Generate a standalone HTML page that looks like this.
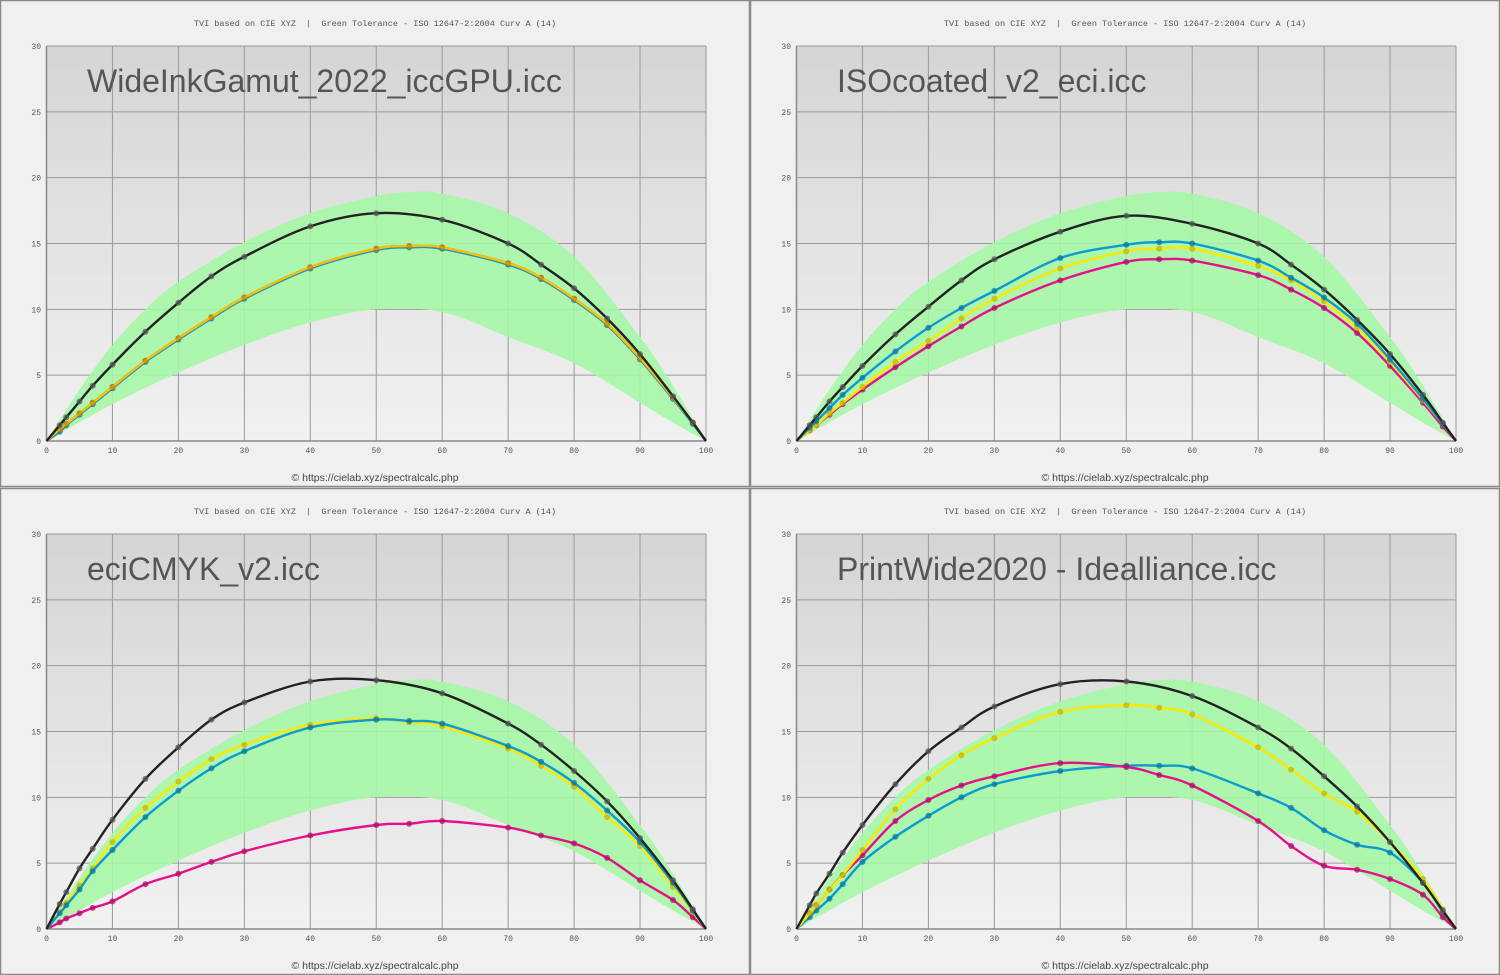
<!DOCTYPE html>
<html><head><meta charset="utf-8"><style>
html,body{margin:0;padding:0;background:#f0f0f0;width:1500px;height:975px;overflow:hidden}
svg{display:block}
</style></head><body>
<svg id="s" width="1500" height="975" xmlns="http://www.w3.org/2000/svg">
<defs><linearGradient id="g" x1="0" y1="0" x2="0" y2="1"><stop offset="0" stop-color="#d5d5d5"/><stop offset="1" stop-color="#f1f1f1"/></linearGradient></defs>
</svg>
<script>
const X=[0,2,3,5,7,10,15,20,25,30,40,50,55,60,70,75,80,85,90,95,98,100];
const UP=[[0,0],[5,3.9],[10,7.3],[15,10],[20,12.1],[30,15.1],[40,17.3],[50,18.6],[55,18.9],[60,18.8],[70,17.3],[80,14],[90,7.9],[95,4.2],[100,0]];
const LO=[[0,0],[10,2.8],[20,5.2],[30,7.3],[40,9],[50,10],[60,9.8],[70,7.9],[80,5.9],[90,2.9],[95,1.4],[100,0]];
const K='#222',C='#0c9bd0',M='#e5108a',Y='#ffe800';
const P=[
 {t:'WideInkGamut_2022_iccGPU.icc',ox:0,oy:0,s:[
  [C,[0,0.7,1.2,2.0,2.8,4.0,6.0,7.7,9.3,10.8,13.1,14.5,14.7,14.6,13.4,12.3,10.7,8.8,6.2,3.2,1.3,0]],
  [M,[0,0.9,1.3,2.1,2.9,4.1,6.1,7.8,9.4,10.9,13.2,14.6,14.8,14.7,13.5,12.4,10.8,8.9,6.3,3.3,1.4,0]],
  ['#f5c400',[0,0.9,1.3,2.1,2.9,4.1,6.1,7.8,9.4,10.9,13.2,14.6,14.8,14.7,13.5,12.4,10.8,8.9,6.3,3.3,1.4,0]],
  [K,[0,1.2,1.8,3,4.2,5.8,8.3,10.5,12.5,14,16.3,17.3,null,16.8,15,13.4,11.6,9.3,6.6,3.4,1.4,0]]]},
 {t:'ISOcoated_v2_eci.icc',ox:750,oy:0,s:[
  [M,[0,0.8,1.2,2,2.8,3.9,5.6,7.2,8.7,10.1,12.2,13.6,13.8,13.7,12.6,11.5,10.1,8.2,5.7,2.9,1.1,0]],
  [Y,[0,0.8,1.2,2.1,2.9,4.1,6,7.6,9.3,10.8,13.1,14.4,14.6,14.6,13.3,12.2,10.6,8.6,6,3.1,1.3,0]],
  [C,[0,1,1.5,2.5,3.5,4.8,6.8,8.6,10.1,11.4,13.9,14.9,15.1,15,13.7,12.4,10.9,8.9,6.2,3.2,1.3,0]],
  [K,[0,1.2,1.8,3,4.1,5.7,8.1,10.2,12.2,13.8,15.9,17.1,null,16.5,15,13.4,11.5,9.2,6.6,3.5,1.4,0]]]},
 {t:'eciCMYK_v2.icc',ox:0,oy:488,s:[
  [M,[0,0.5,0.8,1.2,1.6,2.1,3.4,4.2,5.1,5.9,7.1,7.9,8,8.2,7.7,7.1,6.5,5.4,3.7,2.2,0.9,0]],
  [Y,[0,1.3,2,3.3,4.6,6.6,9.2,11.2,12.9,14,15.5,16,15.7,15.4,13.7,12.4,10.8,8.5,6.3,3.2,1.3,0]],
  [C,[0,1.2,1.8,3,4.4,6,8.5,10.5,12.2,13.5,15.3,15.9,15.8,15.6,13.9,12.7,11.1,9,6.6,3.5,1.4,0]],
  [K,[0,1.9,2.8,4.6,6.1,8.3,11.4,13.8,15.9,17.2,18.8,18.9,null,17.9,15.6,14,12,9.7,6.9,3.7,1.5,0]]]},
 {t:'PrintWide2020 - Idealliance.icc',ox:750,oy:488,s:[
  [C,[0,0.9,1.4,2.3,3.4,5.1,7,8.6,10,11,12,12.4,12.4,12.2,10.3,9.2,7.5,6.4,5.8,3.5,1.3,0]],
  [M,[0,1.2,1.8,3,4.1,5.6,8.2,9.8,10.9,11.6,12.6,12.3,11.7,10.9,8.2,6.3,4.8,4.5,3.8,2.6,0.9,0]],
  [Y,[0,1.2,1.8,3,4.1,6,9.1,11.4,13.2,14.5,16.5,17,16.8,16.3,13.8,12.1,10.3,8.9,6.6,3.8,1.5,0]],
  [K,[0,1.8,2.7,4.2,5.8,7.9,11,13.5,15.3,16.9,18.6,18.8,null,17.7,15.3,13.7,11.6,9.3,6.6,3.5,1.4,0]]]}
];
function cr(pts){let d='M'+pts[0][0].toFixed(1)+','+pts[0][1].toFixed(1);
 for(let i=0;i<pts.length-1;i++){const p0=pts[i-1]||pts[i],p1=pts[i],p2=pts[i+1],p3=pts[i+2]||p2;
  const c1=[p1[0]+(p2[0]-p0[0])/6,p1[1]+(p2[1]-p0[1])/6],c2=[p2[0]-(p3[0]-p1[0])/6,p2[1]-(p3[1]-p1[1])/6];
  d+=` C${c1[0].toFixed(1)},${c1[1].toFixed(1)} ${c2[0].toFixed(1)},${c2[1].toFixed(1)} ${p2[0].toFixed(1)},${p2[1].toFixed(1)}`;}
 return d;}
function dark(c){const n=parseInt(c.slice(1),16);let r=n>>16,g=(n>>8)&255,b=n&255;if(c===K)return '#555';return `rgb(${r*0.78|0},${g*0.78|0},${b*0.78|0})`;}
let h='';
const L=46.5,R=706,T=46,B=441;
for(const p of P){
 const ox=p.ox,oy=p.oy,pw=750,ph=487;
 const fx=x=>ox+L+(R-L)*x/100, fy=v=>oy+B-(B-T)*v/30;
 h+=`<rect x="${ox+0.5}" y="${oy+0.5}" width="${pw-1}" height="${ph-1}" fill="#f0f0f0" stroke="#8a8a8a" stroke-width="1.5"/>`;
 h+=`<text x="${ox+375}" y="${oy+26}" font-family="Liberation Mono,monospace" font-size="8.5" fill="#555" text-anchor="middle" xml:space="preserve">TVI based on CIE XYZ  |  Green Tolerance - ISO 12647-2:2004 Curv A (14)</text>`;
 h+=`<rect x="${ox+L}" y="${oy+T}" width="${R-L}" height="${B-T}" fill="url(#g)"/>`;
 for(let i=0;i<=10;i++){const x=fx(i*10);h+=`<line x1="${x}" y1="${oy+T}" x2="${x}" y2="${oy+B}" stroke="#9a9a9a" stroke-width="1"/>`;
  h+=`<text x="${x}" y="${oy+453}" font-family="Liberation Mono,monospace" font-size="8" fill="#555" text-anchor="middle">${i*10}</text>`;}
 for(let j=0;j<=6;j++){const y=fy(j*5);h+=`<line x1="${ox+L}" y1="${y}" x2="${ox+R}" y2="${y}" stroke="#9a9a9a" stroke-width="1"/>`;
  h+=`<text x="${ox+41}" y="${y+3}" font-family="Liberation Mono,monospace" font-size="8" fill="#555" text-anchor="end">${j*5}</text>`;}
 h+=`<line x1="${ox+L}" y1="${oy+T}" x2="${ox+L}" y2="${oy+B}" stroke="#888" stroke-width="1.5"/><line x1="${ox+L}" y1="${oy+B}" x2="${ox+R}" y2="${oy+B}" stroke="#888" stroke-width="1.5"/>`;
 h+=`<text x="${ox+87}" y="${oy+92}" font-family="Liberation Sans,sans-serif" font-size="32" fill="#555" textLength="${p.t.length*0 || ''}">${p.t}</text>`.replace(' textLength=""','');
 const up=UP.map(a=>[fx(a[0]),fy(a[1])]),lo=LO.map(a=>[fx(a[0]),fy(a[1])]).reverse();
 h+=`<path d="${cr(up)} L${lo[0][0]},${lo[0][1]} ${cr(lo).slice(1).replace(/^[^C]*/,'')} Z" fill="#a6f7a6" fill-opacity="0.9"/>`;
 for(const [col,vals] of p.s){
  const pts=[];X.forEach((x,i)=>{if(vals[i]!=null)pts.push([fx(x),fy(vals[i])]);});
  h+=`<path d="${cr(pts)}" fill="none" stroke="${col}" stroke-width="2.4"/>`;
  pts.forEach((q,i)=>{if(i>0&&i<pts.length-1)h+=`<circle cx="${q[0].toFixed(1)}" cy="${q[1].toFixed(1)}" r="3" fill="${dark(col)}" fill-opacity="0.75"/>`;});
 }
 h+=`<text x="${ox+375}" y="${oy+481}" font-family="Liberation Sans,sans-serif" font-size="10.5" fill="#444" text-anchor="middle">© https://cielab.xyz/spectralcalc.php</text>`;
}
document.getElementById('s').insertAdjacentHTML('beforeend',h);
</script>
</body></html>
